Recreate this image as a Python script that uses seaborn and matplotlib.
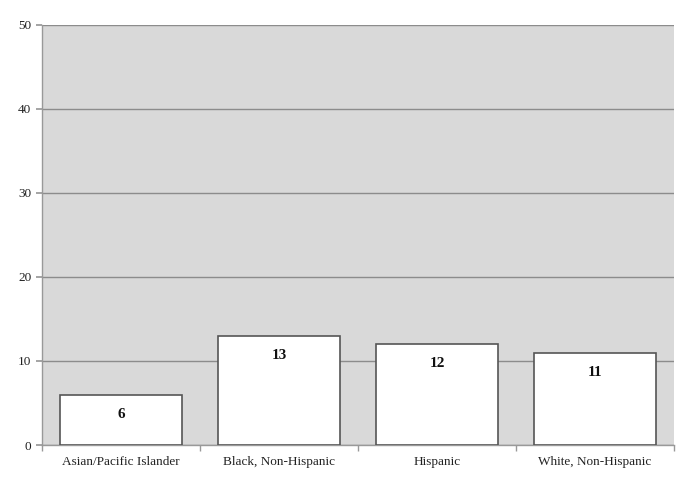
import pandas as pd
import matplotlib.pyplot as plt
import seaborn as sns

# values
groups = ['Asian/Pacific Islander', 'Black, Non-Hispanic', 'Hispanic', 'White, Non-Hispanic']
counts = [6, 13, 12, 11]

df = pd.DataFrame({'group': groups, 'count': counts})

sns.set_theme(style='white')
plt.rcParams['font.family'] = ['Liberation Serif', 'DejaVu Serif']

fig = plt.figure(figsize=(6.76, 4.78), dpi=100)
ax = fig.add_axes([0.062, 0.069, 0.935, 0.879])
ax.set_facecolor('#d9d9d9')

sns.barplot(data=df, x='group', y='count', color='white', edgecolor='#555555',
            linewidth=1.2, width=0.77, saturation=1, ax=ax, zorder=3)

# value labels near the top of each bar
for i, v in enumerate(counts):
    ax.annotate(str(v), (i, v), xytext=(0, -14), textcoords='offset points',
                ha='center', va='center', fontsize=11, fontweight='bold',
                color='#111111', zorder=4)

ax.set_ylim(0, 50)
ax.set_xlim(-0.5, 3.5)
ax.set_yticks(range(0, 51, 10))
ax.yaxis.grid(True, color='#8c8c8c', linewidth=1.0, zorder=0)
ax.set_axisbelow(True)
ax.set_xlabel('')
ax.set_ylabel('')

for side in ['top', 'right']:
    ax.spines[side].set_visible(False)
for side in ['left', 'bottom']:
    ax.spines[side].set_color('#999999')
    ax.spines[side].set_linewidth(1.0)

ax.tick_params(axis='both', which='both', length=4, color='#999999', direction='out',
               labelsize=9.5, labelcolor='#222222', left=True, bottom=True)
ax.set_xticks([-0.5, 0.5, 1.5, 2.5, 3.5], minor=True)
ax.tick_params(axis='x', which='major', length=0, pad=8)
ax.tick_params(axis='x', which='minor', length=4)

fig.savefig('out.png', dpi=100)
